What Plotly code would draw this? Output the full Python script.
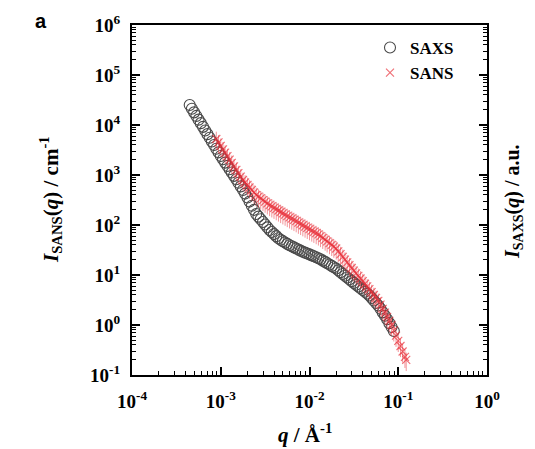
import plotly.graph_objects as go

# ---- data ----
saxs_q = [4.47e-4, 4.73e-4, 5.01e-4, 5.31e-4, 5.62e-4, 5.96e-4, 6.31e-4, 6.68e-4,
          7.08e-4, 7.50e-4, 7.94e-4, 8.41e-4, 8.91e-4, 9.44e-4, 1.0e-3, 1.06e-3,
          1.12e-3, 1.19e-3, 1.26e-3, 1.33e-3, 1.41e-3, 1.50e-3, 1.58e-3, 1.68e-3,
          1.78e-3, 1.88e-3, 2.0e-3, 2.11e-3, 2.24e-3, 2.37e-3, 2.51e-3, 2.66e-3,
          2.82e-3, 2.99e-3, 3.16e-3, 3.35e-3, 3.55e-3, 3.76e-3, 3.98e-3, 4.22e-3,
          4.47e-3, 4.73e-3, 5.01e-3, 5.31e-3, 5.62e-3, 5.96e-3, 6.31e-3, 6.68e-3,
          7.08e-3, 7.50e-3, 7.94e-3, 8.41e-3, 8.91e-3, 9.44e-3, 1.0e-2, 1.06e-2,
          1.12e-2, 1.19e-2, 1.26e-2, 1.33e-2, 1.41e-2, 1.50e-2, 1.58e-2, 1.68e-2,
          1.78e-2, 1.88e-2, 2.0e-2, 2.11e-2, 2.24e-2, 2.37e-2, 2.51e-2, 2.66e-2,
          2.82e-2, 2.99e-2, 3.16e-2, 3.35e-2, 3.55e-2, 3.76e-2, 3.98e-2, 4.22e-2,
          4.47e-2, 4.73e-2, 5.01e-2, 5.31e-2, 5.62e-2, 5.96e-2, 6.31e-2, 6.68e-2,
          7.08e-2, 7.50e-2, 7.94e-2, 8.41e-2, 8.91e-2]
saxs_I = [25100, 21200, 17900, 15200, 12800, 10900, 9180, 7760,
          6560, 5550, 4690, 3970, 3360, 2840, 2400, 2060,
          1770, 1520, 1300, 1120, 961, 824, 698, 592,
          501, 425, 355, 294, 243, 201, 166, 147,
          130, 115, 102, 89.8, 79.4, 72.3, 65.8, 59.9,
          54.5, 50.6, 47.5, 44.6, 41.9, 39.4, 37.5, 35.7,
          34.0, 32.3, 30.7, 29.2, 28.0, 26.9, 25.8, 24.7,
          23.7, 22.7, 21.7, 20.6, 19.4, 18.3, 17.2, 16.2,
          15.2, 14.3, 13.5, 12.4, 11.4, 10.5, 9.68, 8.90,
          8.19, 7.54, 6.95, 6.40, 5.90, 5.43, 5.00, 4.61,
          4.25, 3.89, 3.47, 3.09, 2.75, 2.45, 2.11, 1.79,
          1.53, 1.30, 1.09, 0.91, 0.76]

sans_q = [8.91e-4, 9.44e-4, 1.0e-3, 1.06e-3, 1.12e-3, 1.19e-3, 1.26e-3, 1.33e-3,
          1.41e-3, 1.50e-3, 1.58e-3, 1.68e-3, 1.78e-3, 1.88e-3, 2.0e-3, 2.11e-3,
          2.24e-3, 2.37e-3, 2.51e-3, 2.66e-3, 2.82e-3, 2.99e-3, 3.16e-3, 3.35e-3,
          3.55e-3, 3.76e-3, 3.98e-3, 4.22e-3, 4.47e-3, 4.73e-3, 5.01e-3, 5.31e-3,
          5.62e-3, 5.96e-3, 6.31e-3, 6.68e-3, 7.08e-3, 7.50e-3, 7.94e-3, 8.41e-3,
          8.91e-3, 9.44e-3, 1.0e-2, 1.06e-2, 1.12e-2, 1.19e-2, 1.26e-2, 1.33e-2,
          1.41e-2, 1.50e-2, 1.58e-2, 1.68e-2, 1.78e-2, 1.88e-2, 2.0e-2, 2.11e-2,
          2.24e-2, 2.37e-2, 2.51e-2, 2.66e-2, 2.82e-2, 2.99e-2, 3.16e-2, 3.35e-2,
          3.55e-2, 3.76e-2, 3.98e-2, 4.22e-2, 4.47e-2, 4.73e-2, 5.01e-2, 5.31e-2,
          5.62e-2, 5.96e-2, 6.31e-2, 6.68e-2, 7.08e-2, 7.50e-2, 7.94e-2, 8.41e-2,
          8.91e-2, 9.44e-2, 0.100, 0.106, 0.112, 0.119, 0.123]
sans_I = [5250, 4480, 3830, 3270, 2800, 2390, 2040, 1750,
          1490, 1270, 1090, 929, 794, 708, 631, 562,
          501, 447, 398, 369, 341, 316, 293, 271,
          251, 236, 221, 207, 195, 182, 171, 161,
          151, 142, 134, 126, 119, 111, 105, 98.8,
          93.0, 87.5, 82.4, 77.5, 73.0, 68.7, 64.7, 60.1,
          55.3, 51.0, 47.0, 43.4, 39.9, 36.8, 33.9, 29.8,
          26.2, 23.1, 20.3, 17.9, 15.7, 13.8, 12.2, 10.8,
          9.62, 8.51, 7.54, 6.68, 5.92, 5.22, 4.56, 3.98,
          3.47, 3.03, 2.55, 2.11, 1.76, 1.46, 1.21, 1.00,
          0.78, 0.61, 0.48, 0.38, 0.295, 0.23, 0.20]

series_names = ["SAXS", "SANS"]
x_tickvals = [1e-4, 1e-3, 1e-2, 1e-1, 1]
x_ticktext = ["10<sup>-4</sup>", "10<sup>-3</sup>", "10<sup>-2</sup>", "10<sup>-1</sup>", "10<sup>0</sup>"]
y_tickvals = [1e-1, 1, 1e1, 1e2, 1e3, 1e4, 1e5, 1e6]
y_ticktext = ["10<sup>-1</sup>", "10<sup>0</sup>", "10<sup>1</sup>", "10<sup>2</sup>",
              "10<sup>3</sup>", "10<sup>4</sup>", "10<sup>5</sup>", "10<sup>6</sup>"]

SERIF = "Liberation Serif, Times New Roman, serif"
RED = "rgba(232,45,55,0.7)"

fig = go.Figure()
fig.add_trace(go.Scatter(
    x=saxs_q, y=saxs_I, mode="markers", name=series_names[0],
    marker=dict(symbol="circle-open", size=11, color="#4a4a4a", line=dict(width=1.1, color="#4a4a4a")),
))
fig.add_trace(go.Scatter(
    x=sans_q, y=sans_I, mode="markers", name=series_names[1],
    marker=dict(symbol="x-thin-open", size=8, line=dict(width=1.1, color=RED), color=RED),
    error_y=dict(type="percent", value=40, thickness=1, width=0, color="rgba(232,45,55,0.5)"),
))

minor_vals = [m * 10.0 ** e for e in range(-4, 6) for m in range(2, 10)]

axis_common = dict(
    type="log", showline=True, linecolor="black", linewidth=2, automargin=False,
    ticks="inside", ticklen=8, tickwidth=1.5, tickcolor="black",
    showgrid=False, zeroline=False,
    tickfont=dict(family=SERIF, size=19, color="black", weight="bold"),
)
minor_common = dict(ticks="inside", ticklen=4, tickwidth=1, tickcolor="black",
                    tickmode="array", tickvals=minor_vals, showgrid=False)

fig.update_xaxes(**axis_common, range=[-4, 0], tickmode="array", tickvals=x_tickvals,
                 ticktext=x_ticktext, mirror=True, ticklabelstandoff=8, minor=minor_common)
fig.update_yaxes(**axis_common, range=[-1, 6], tickmode="array", tickvals=y_tickvals,
                 ticktext=y_ticktext, mirror="ticks", ticklabelstandoff=6, minor=minor_common)

L, R, T, B = 124, 479, 17, 367
W, H = 535, 449
def px(x):
    return (x - L) / (R - L)
def py(y):
    return 1 - (y - T) / (B - T)

annos = [
    dict(x=px(33), y=py(13), text="<b>a</b>", font=dict(family="Liberation Sans, Arial", size=20)),
    dict(x=px(42), y=py(192), text="<b><i>I</i><sub>SANS</sub>(<i>q</i>) / cm<sup>-1</sup></b>",
         textangle=-90, font=dict(family=SERIF, size=21)),
    dict(x=px(505), y=py(193), text="<b><i>I</i><sub>SAXS</sub>(<i>q</i>) / a.u.</b>",
         textangle=-90, font=dict(family=SERIF, size=20)),
    dict(x=px(297), y=py(425), text="<b><i>q</i> / Å<sup>-1</sup></b>",
         font=dict(family=SERIF, size=21)),
]
for a in annos:
    a.update(xref="paper", yref="paper", showarrow=False, xanchor="center", yanchor="middle")

fig.update_layout(
    width=W, height=H,
    margin=dict(l=L, r=W - R, t=T, b=H - B),
    plot_bgcolor="white", paper_bgcolor="white",
    font=dict(family=SERIF, color="black"),
    annotations=annos,
    showlegend=True,
    legend=dict(x=px(362), y=py(22), xanchor="left", yanchor="top",
                bgcolor="rgba(0,0,0,0)", tracegroupgap=0,
                font=dict(family=SERIF, size=17, color="black", weight="bold")),
)

fig.write_html("out.html")
